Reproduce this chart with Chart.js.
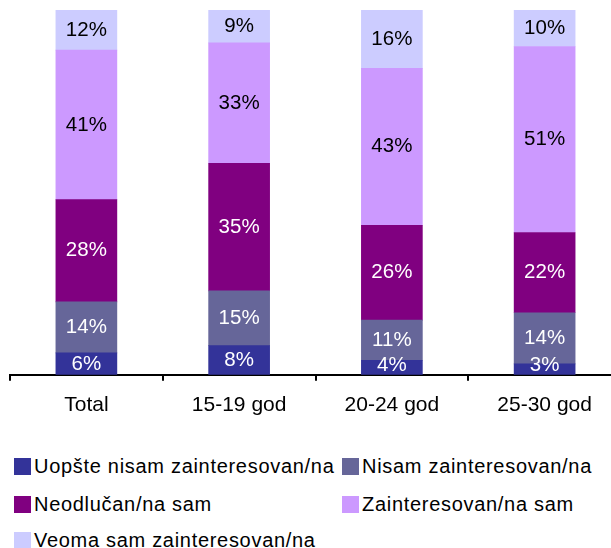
<!DOCTYPE html>
<html lang="sr">
<head>
  <meta charset="UTF-8" />
  <title>Zainteresovanost po uzrastu</title>
  <script src="https://cdn.jsdelivr.net/npm/chart.js"></script>
  <style>
    * { margin: 0; padding: 0; box-sizing: border-box; }
    body {
      background: #fff;
      width: 611px;
      height: 548px;
      overflow: hidden;
      font-family: 'Liberation Sans', Arial, sans-serif;
    }
    .wrap { position: relative; width: 621px; height: 548px; }
    canvas { position: absolute; left: 0; top: 0; }
    .legend { position: absolute; left: 0; top: 0; }
    .legend .item {
      position: absolute;
      white-space: nowrap;
      font-size: 20px;
      letter-spacing: 0.7px;
      color: #000;
      line-height: 20px;
    }
    .legend .box {
      position: absolute;
      width: 17px;
      height: 17px;
    }
  </style>
</head>
<body>
  <div class="wrap">
    <canvas id="chart" width="621" height="442"></canvas>
    <div class="legend" id="legend"></div>
  </div>

  <script>
    const categories = ['Total', '15-19 god', '20-24 god', '25-30 god'];
    const seriesNames = [
      'Uopšte nisam zainteresovan/na',
      'Nisam zainteresovan/na',
      'Neodlučan/na sam',
      'Zainteresovan/na sam',
      'Veoma sam zainteresovan/na'
    ];
    const notAtAll = [6, 8, 4, 3];
    const notInterested = [14, 15, 11, 14];
    const undecided = [28, 35, 26, 22];
    const interested = [41, 33, 43, 51];
    const veryInterested = [12, 9, 16, 10];

    const colors = ['#333399', '#666699', '#800080', '#cc99ff', '#ccccff'];
    const labelColors = ['#fff', '#fff', '#fff', '#000', '#000'];
    const values = [notAtAll, notInterested, undecided, interested, veryInterested];

    // draws the % numbers in the middle of each segment
    const segmentLabels = {
      id: 'segmentLabels',
      afterDatasetsDraw(chart) {
        const ctx = chart.ctx;
        const bottom = chart.chartArea.bottom;
        const top = chart.chartArea.top;
        ctx.save();
        ctx.font = '20.5px "Liberation Sans", Arial, sans-serif';
        ctx.textAlign = 'center';
        ctx.textBaseline = 'middle';
        chart.data.datasets.forEach((ds, i) => {
          chart.getDatasetMeta(i).data.forEach((bar, j) => {
            const y1 = Math.max(bar.y, top);
            let y = (y1 + bar.base) / 2;
            y = Math.min(y, bottom - 9);
            ctx.fillStyle = labelColors[i];
            ctx.fillText(ds.data[j] + '%', bar.x, y);
          });
        });
        ctx.restore();
      }
    };

    new Chart(document.getElementById('chart'), {
      type: 'bar',
      data: {
        labels: categories,
        datasets: seriesNames.map((name, i) => ({
          label: name,
          data: values[i],
          backgroundColor: colors[i],
          borderWidth: 0,
          barThickness: 61
        }))
      },
      options: {
        responsive: false,
        animation: false,
        devicePixelRatio: 1,
        layout: { padding: { left: 10, top: 10, right: 0, bottom: 12 } },
        plugins: {
          legend: { display: false },
          tooltip: { enabled: false }
        },
        scales: {
          x: {
            stacked: true,
            grid: {
              offset: true,
              drawOnChartArea: false,
              drawTicks: true,
              tickLength: 6,
              tickWidth: 2,
              tickColor: '#000',
              color: '#000',
              lineWidth: 2
            },
            border: { color: '#000', width: 2 },
            ticks: {
              color: '#000',
              padding: 12,
              font: { family: 'Liberation Sans', size: 21 }
            }
          },
          y: {
            stacked: true,
            display: false,
            min: 0,
            max: 100
          }
        }
      },
      plugins: [segmentLabels]
    });

    // legend in two columns, like the original
    const legendSpots = [
      [14, 466], [342, 466],
      [14, 504], [342, 504],
      [14, 540]
    ];
    const legendEl = document.getElementById('legend');
    seriesNames.forEach((name, i) => {
      const [x, y] = legendSpots[i];
      const box = document.createElement('div');
      box.className = 'box';
      box.style.left = x + 'px';
      box.style.top = (y - 8.5) + 'px';
      box.style.background = colors[i];
      legendEl.appendChild(box);
      const txt = document.createElement('div');
      txt.className = 'item';
      txt.style.left = (x + 20) + 'px';
      txt.style.top = (y - 10) + 'px';
      txt.textContent = name;
      legendEl.appendChild(txt);
    });
  </script>
</body>
</html>
